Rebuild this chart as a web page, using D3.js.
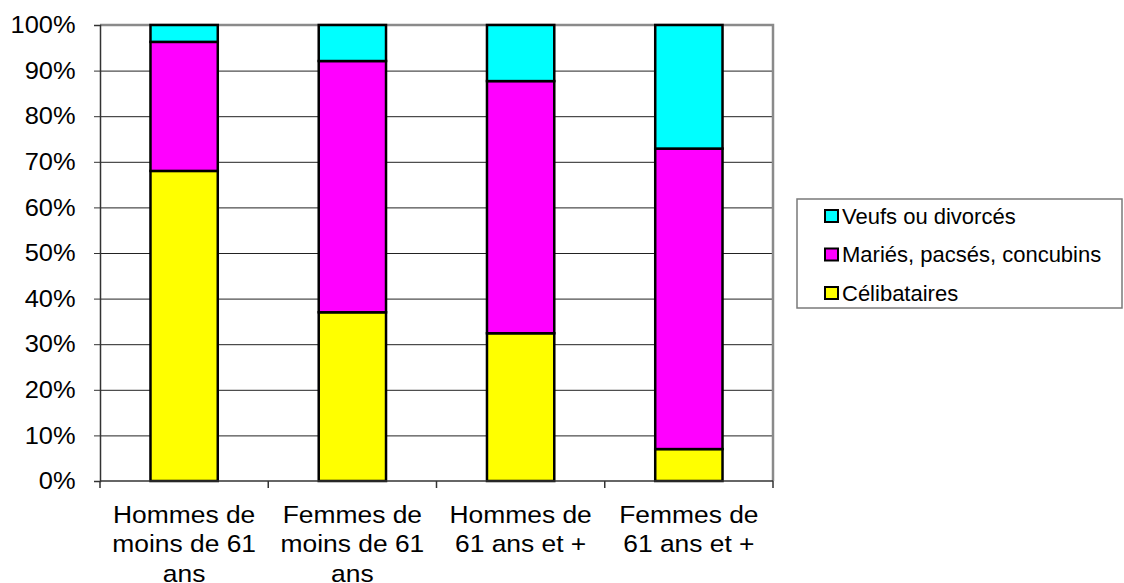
<!DOCTYPE html>
<html>
<head>
<meta charset="utf-8">
<script src="https://cdn.jsdelivr.net/npm/d3@7"></script>
<style>
  body { margin: 0; background: #fff; }
  text { font-family: "Liberation Sans", Arial, sans-serif; fill: #000; }
</style>
</head>
<body>
<div id="chart"></div>
<script>
// data, percentages per group
const categories = [
    ["Hommes de", "moins de 61", "ans"],
    ["Femmes de", "moins de 61", "ans"],
    ["Hommes de", "61 ans et +"],
    ["Femmes de", "61 ans et +"]
]
const celibataires = [68.0, 37.0, 32.4, 7.0]
const maries = [28.3, 55.1, 55.3, 65.9]
const veufs = [3.7, 7.9, 12.3, 27.1]

const seriesNames = ["Célibataires", "Mariés, pacsés, concubins", "Veufs ou divorcés"]
const seriesColors = ["#ffff00", "#ff00ff", "#00ffff"]
const yTicks = [0, 10, 20, 30, 40, 50, 60, 70, 80, 90, 100]

const width = 1124, height = 583
let plot = { left: 100, top: 25, right: 773, bottom: 481 }

let svg = d3.select("#chart").append("svg")
    .attr("width", width)
    .attr("height", height)

let x = d3.scaleBand()
    .domain(d3.range(categories.length))
    .range([plot.left, plot.right])
    .paddingInner(0.6)
    .paddingOuter(0.3)

let y = d3.scaleLinear()
    .domain([0, 100])
    .range([plot.bottom, plot.top])

// gridlines
svg.append("g")
    .selectAll("line")
    .data(yTicks.filter(d => d > 0 && d < 100))
    .join("line")
    .attr("x1", plot.left)
    .attr("x2", plot.right)
    .attr("y1", d => y(d) + 0.5)
    .attr("y2", d => y(d) + 0.5)
    .attr("stroke", "#222")
    .attr("stroke-width", 1)

// gray frame on top and right
svg.append("path")
    .attr("d", `M${plot.left},${plot.top} H${plot.right} V${plot.bottom}`)
    .attr("fill", "none")
    .attr("stroke", "#8a8a8a")
    .attr("stroke-width", 2.5)

// stacked bars
let rows = categories.map((c, i) => ({ i: i, 0: celibataires[i], 1: maries[i], 2: veufs[i] }))
let stack = d3.stack().keys([0, 1, 2])(rows)

svg.append("g")
    .selectAll("g")
    .data(stack)
    .join("g")
    .attr("fill", (d, k) => seriesColors[k])
    .selectAll("rect")
    .data(d => d)
    .join("rect")
    .attr("x", d => x(d.data.i))
    .attr("width", x.bandwidth())
    .attr("y", d => y(d[1]))
    .attr("height", d => y(d[0]) - y(d[1]))
    .attr("stroke", "#000")
    .attr("stroke-width", 2.5)

// y axis
let yAxis = d3.axisLeft(y)
    .tickValues(yTicks)
    .tickSize(6)
    .tickPadding(17)
    .tickFormat(d => d + "%")

let yG = svg.append("g")
    .attr("transform", `translate(${plot.left},0)`)
    .call(yAxis)
yG.select(".domain").attr("stroke", "#333").attr("stroke-width", 1.5)
yG.selectAll(".tick line").attr("stroke", "#333")
yG.selectAll("text")
    .style("font-size", "24px")
    .attr("fill", "#000")
    .attr("transform", "scale(1.06,1)")

// x axis line and category ticks
svg.append("line")
    .attr("x1", plot.left).attr("x2", plot.right)
    .attr("y1", plot.bottom).attr("y2", plot.bottom)
    .attr("stroke", "#333").attr("stroke-width", 1.5)

let bounds = d3.range(categories.length + 1).map(i => plot.left + i * (plot.right - plot.left) / categories.length)
svg.append("g")
    .selectAll("line")
    .data(bounds)
    .join("line")
    .attr("x1", d => d).attr("x2", d => d)
    .attr("y1", plot.bottom).attr("y2", plot.bottom + 7)
    .attr("stroke", "#333").attr("stroke-width", 1.5)

let xLabels = svg.append("g")
    .selectAll("text")
    .data(categories)
    .join("text")
    .attr("text-anchor", "middle")
    .style("font-size", "24px")
    .attr("transform", (d, i) => `translate(${x(i) + x.bandwidth() / 2},523) scale(1.1,1)`)

xLabels.selectAll("tspan")
    .data(d => d)
    .join("tspan")
    .attr("x", 0)
    .attr("y", (d, j) => j * 29.5)
    .text(d => d)

// legend
let legend = svg.append("g").attr("transform", "translate(797,199)")
legend.append("rect")
    .attr("width", 325)
    .attr("height", 109)
    .attr("fill", "#fff")
    .attr("stroke", "#7a7a7a")
    .attr("stroke-width", 1.5)

let items = legend.selectAll("g.item")
    .data([2, 1, 0])
    .join("g")
    .attr("class", "item")
    .attr("transform", (d, j) => `translate(0,${17 + j * 38.5})`)

items.append("rect")
    .attr("x", 28)
    .attr("y", -6)
    .attr("width", 13)
    .attr("height", 12)
    .attr("fill", d => seriesColors[d])
    .attr("stroke", "#000")
    .attr("stroke-width", 2)

items.append("text")
    .attr("x", 45)
    .attr("dy", "0.35em")
    .style("font-size", "22px")
    .attr("transform", "scale(1,1)")
    .text(d => seriesNames[d])
</script>
</body>
</html>
